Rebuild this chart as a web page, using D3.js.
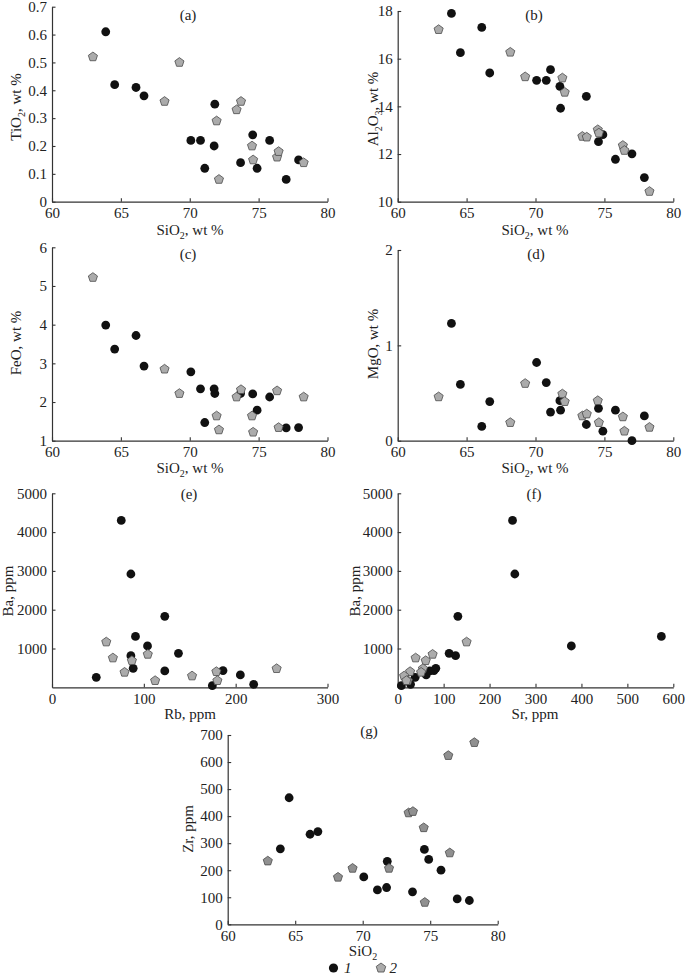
<!DOCTYPE html>
<html><head><meta charset="utf-8">
<script src="https://cdn.jsdelivr.net/npm/d3@7"></script>
<style>
body{margin:0;background:#fff}
svg text{font-family:"Liberation Serif","Times New Roman",serif;fill:#222}
</style>
</head><body>
<svg id="chart" width="685" height="978"></svg>
<script>
// ---------- Group 1 (black circles): major elements & Zr ----------
const sio2_1  = [63.9, 64.55, 66.1, 66.68, 70.08, 70.78, 71.09, 71.77, 71.82, 73.69, 74.57, 74.89, 75.8, 77.0, 77.9];
const tio2_1  = [0.61, 0.42, 0.41, 0.38, 0.22, 0.22, 0.12, 0.20, 0.35, 0.14, 0.24, 0.12, 0.22, 0.08, 0.15];
const al2o3_1 = [17.90, 16.25, 17.31, 15.40, 15.09, 15.09, 15.54, 14.84, 13.92, 14.42, 12.52, 12.81, 11.78, 12.01, 11.01];
const feo_1   = [3.99, 3.37, 3.72, 2.93, 2.78, 2.34, 1.47, 2.34, 2.22, 2.22, 2.21, 1.79, 2.13, 1.33, 1.34];
const mgo_1   = [1.23, 0.59, 0.15, 0.41, 0.82, 0.61, 0.30, 0.42, 0.32, 0.17, 0.34, 0.10, 0.32, 0.00, 0.26];
const zr_1    = [279, 468, 333, 343, 175, null, 127, 136, 233, 120, 277, 240, 200, 94, 88];

// ---------- Group 2 (grey pentagons): major elements & Zr ----------
const sio2_2  = [62.97, 68.17, 69.25, 71.95, 72.12, 73.4, 73.72, 74.52, 74.6, 76.34, 76.45, 78.27];
const tio2_2  = [0.52, 0.36, 0.50, 0.29, 0.08, 0.33, 0.36, 0.20, 0.15, 0.16, 0.18, 0.14];
const al2o3_2 = [17.22, 16.27, 15.24, 15.19, 14.59, 12.74, 12.71, 13.02, 12.88, 12.36, 12.15, 10.43];
const feo_2   = [5.22, 2.85, 2.22, 1.64, 1.28, 2.13, 2.32, 1.64, 1.22, 2.29, 1.34, 2.13];
const mgo_2   = [0.46, 0.19, 0.60, 0.49, 0.41, 0.26, 0.28, 0.42, 0.19, 0.25, 0.10, 0.14];
const zr_2    = [234, 174, 207, 207, null, 412, 417, 357, 81, 624, 264, 672];

// ---------- Trace elements (ppm) ----------
const ba_1 = [4300, 2920, 1830, 1310, 1065, 876, 816, 490, 430, 421, 318, 258, 77, 43];
const rb_1 = [75.4, 85.9, 122.8, 90.9, 104.0, 137.7, 85.9, 88.4, 186.2, 122.8, 205.1, 48.2, 219.6, 174.6];
const sr_1 = [250, 255, 131, 574, 378, 112, 126, 83, 79, 70, 62, 38, 28, 8];

const ba_2 = [1168, 850, 756, 687, 481, 404, 387, 292, 172, 172];
const rb_2 = [59.1, 104.3, 66.3, 87.0, 244.6, 179.0, 79.0, 152.5, 112.3, 180.1];
const sr_2 = [150, 76, 39, 61, 55, 27, 51, 14, 22, 19];

// ---------- Tick values ----------
const ticksSiO2 = [60, 65, 70, 75, 80];
const ticksTiO2 = [0, 0.1, 0.2, 0.3, 0.4, 0.5, 0.6, 0.7];
const ticksAl2O3 = [10, 12, 14, 16, 18];
const ticksFeO = [1, 2, 3, 4, 5, 6];
const ticksMgO = [0, 1, 2];
const ticksBa = [1000, 2000, 3000, 4000, 5000];
const ticksRb = [0, 100, 200, 300];
const ticksSr = [0, 100, 200, 300, 400, 500, 600];
const ticksZr = [0, 100, 200, 300, 400, 500, 600, 700];

const svg = d3.select("#chart");
const SUB = "__sub__";

function richText(sel, parts, subSize){
  let shifted = false;
  parts.forEach(p => {
    if (p.startsWith(SUB)) {
      sel.append("tspan").attr("font-size", subSize).attr("dy", shifted ? 0 : 4).text(p.slice(SUB.length));
      shifted = true;
    } else {
      const t = sel.append("tspan").text(p);
      if (shifted) { t.attr("dy", -4); shifted = false; }
    }
  });
}

function pentagon(cx, cy, R){
  const pts = d3.range(5).map(k => {
    const a = -Math.PI/2 + k*2*Math.PI/5;
    return [cx + R*Math.cos(a), cy + R*Math.sin(a)];
  });
  return "M" + pts.map(p => p.join(",")).join("L") + "Z";
}

function panel(cfg){
  const x = d3.scaleLinear().domain(cfg.xd).range([cfg.x0, cfg.x1]);
  const y = d3.scaleLinear().domain(cfg.yd).range([cfg.y0, cfg.y1]);
  const g = svg.append("g");

  const xa = g.append("g").attr("transform", `translate(0,${cfg.y0})`)
    .call(d3.axisBottom(x).tickValues(cfg.xt).tickSizeInner(-3.5).tickSizeOuter(0).tickPadding(3)
      .tickFormat(cfg.xf || (d => String(d))));
  const ya = g.append("g").attr("transform", `translate(${cfg.x0},0)`)
    .call(d3.axisLeft(y).tickValues(cfg.yt).tickSizeInner(-3.5).tickSizeOuter(0).tickPadding(5)
      .tickFormat(cfg.yf || (d => String(d))));
  [xa, ya].forEach(a => {
    a.attr("font-family", null).attr("font-size", null);
    a.selectAll("path.domain").attr("stroke", "#333").attr("stroke-width", 1.2);
    a.selectAll(".tick line").attr("stroke", "#333").attr("stroke-width", 1.1);
    a.selectAll(".tick text").attr("font-size", 15).attr("fill", "#222");
  });
  xa.selectAll(".tick text").attr("dy", "0.9em");

  // series 1: black circles
  g.append("g").selectAll("circle")
    .data(cfg.s1.filter(d => d[0] != null && d[1] != null))
    .join("circle")
    .attr("cx", d => x(d[0])).attr("cy", d => y(d[1])).attr("r", 4.4)
    .attr("fill", "#111");
  // series 2: grey pentagons
  g.append("g").selectAll("path")
    .data(cfg.s2.filter(d => d[0] != null && d[1] != null))
    .join("path")
    .attr("d", d => pentagon(x(d[0]), y(d[1]), 4.8))
    .attr("fill", cfg.grey || "#ababab").attr("stroke", "#4a4a4a").attr("stroke-width", 0.8);

  // panel label
  g.append("text").attr("x", cfg.lab[0]).attr("y", cfg.lab[1]).attr("text-anchor", "middle")
    .attr("dominant-baseline", "central").attr("font-size", 15).text(cfg.label);

  // x title
  const xt = g.append("text").attr("x", cfg.xtPos[0]).attr("y", cfg.xtPos[1])
    .attr("text-anchor", "middle").attr("font-size", 15);
  richText(xt, cfg.xTitle, 10);
  // y title
  const yt = g.append("text").attr("transform", `translate(${cfg.ytPos[0]},${cfg.ytPos[1]}) rotate(-90)`)
    .attr("text-anchor", "middle").attr("font-size", 15);
  richText(yt, cfg.yTitle, 10);
}

const zip = (a, b) => a.map((v, i) => [v, b[i]]);
const fmt1 = d => d === 0 ? "0" : d.toFixed(1);
const sio2Title = ["SiO", SUB + "2", ", wt %"];

panel({xd:[60,80], yd:[0,0.7], x0:52, x1:327.5, y0:201.7, y1:6.7, xt:ticksSiO2, yt:ticksTiO2, yf:fmt1,
  s1:zip(sio2_1,tio2_1), s2:zip(sio2_2,tio2_2), label:"(a)", lab:[188,15],
  xTitle:sio2Title, xtPos:[190,235], yTitle:["TiO", SUB+"2", ", wt %"], ytPos:[21,107]});
panel({xd:[60,80], yd:[10,18], x0:397.7, x1:673.3, y0:201.7, y1:11, xt:ticksSiO2, yt:ticksAl2O3,
  s1:zip(sio2_1,al2o3_1), s2:zip(sio2_2,al2o3_2), label:"(b)", lab:[534,15],
  xTitle:sio2Title, xtPos:[535,235], yTitle:["Al", SUB+"2", "O", SUB+"3", ", wt %"], ytPos:[378,109]});
panel({xd:[60,80], yd:[1,6], x0:52, x1:327.5, y0:440.7, y1:247.3, xt:ticksSiO2, yt:ticksFeO,
  s1:zip(sio2_1,feo_1), s2:zip(sio2_2,feo_2), label:"(c)", lab:[188,254],
  xTitle:sio2Title, xtPos:[190,473], yTitle:["FeO, wt %"], ytPos:[21,343]});
panel({xd:[60,80], yd:[0,2], x0:397.7, x1:673.3, y0:440.7, y1:250, xt:ticksSiO2, yt:ticksMgO,
  s1:zip(sio2_1,mgo_1), s2:zip(sio2_2,mgo_2), label:"(d)", lab:[536,254],
  xTitle:sio2Title, xtPos:[535,473], yTitle:["MgO, wt %"], ytPos:[378,344]});
panel({xd:[0,300], yd:[0,5000], x0:52, x1:327.5, y0:687.3, y1:493.3, xt:ticksRb, yt:ticksBa,
  s1:zip(rb_1,ba_1), s2:zip(rb_2,ba_2), label:"(e)", lab:[189,494],
  xTitle:["Rb, ppm"], xtPos:[190,719], yTitle:["Ba, ppm"], ytPos:[13,591]});
panel({xd:[0,600], yd:[0,5000], x0:397.7, x1:673.3, y0:687.3, y1:493.3, xt:ticksSr, yt:ticksBa,
  s1:zip(sr_1,ba_1), s2:zip(sr_2,ba_2), label:"(f)", lab:[534,494],
  xTitle:["Sr, ppm"], xtPos:[535,719], yTitle:["Ba, ppm"], ytPos:[360,591]});
panel({xd:[60,80], yd:[0,700], x0:227.7, x1:497.7, y0:924.3, y1:735, xt:ticksSiO2, yt:ticksZr,
  s1:zip(sio2_1,zr_1), s2:zip(sio2_2,zr_2), label:"(g)", lab:[369,731], grey:"#909090",
  xTitle:["SiO", SUB+"2"], xtPos:[363,956], yTitle:["Zr, ppm"], ytPos:[193,829]});

// ---------- Legend ----------
const leg = svg.append("g");
leg.append("circle").attr("cx", 333.5).attr("cy", 968).attr("r", 4.6).attr("fill", "#111");
leg.append("text").attr("x", 344).attr("y", 968).attr("dominant-baseline", "central")
  .attr("font-size", 15).attr("font-style", "italic").text("1");
leg.append("path").attr("d", pentagon(381, 968, 5)).attr("fill", "#ababab")
  .attr("stroke", "#4a4a4a").attr("stroke-width", 0.8);
leg.append("text").attr("x", 389.5).attr("y", 968).attr("dominant-baseline", "central")
  .attr("font-size", 15).attr("font-style", "italic").text("2");
</script>
</body></html>
